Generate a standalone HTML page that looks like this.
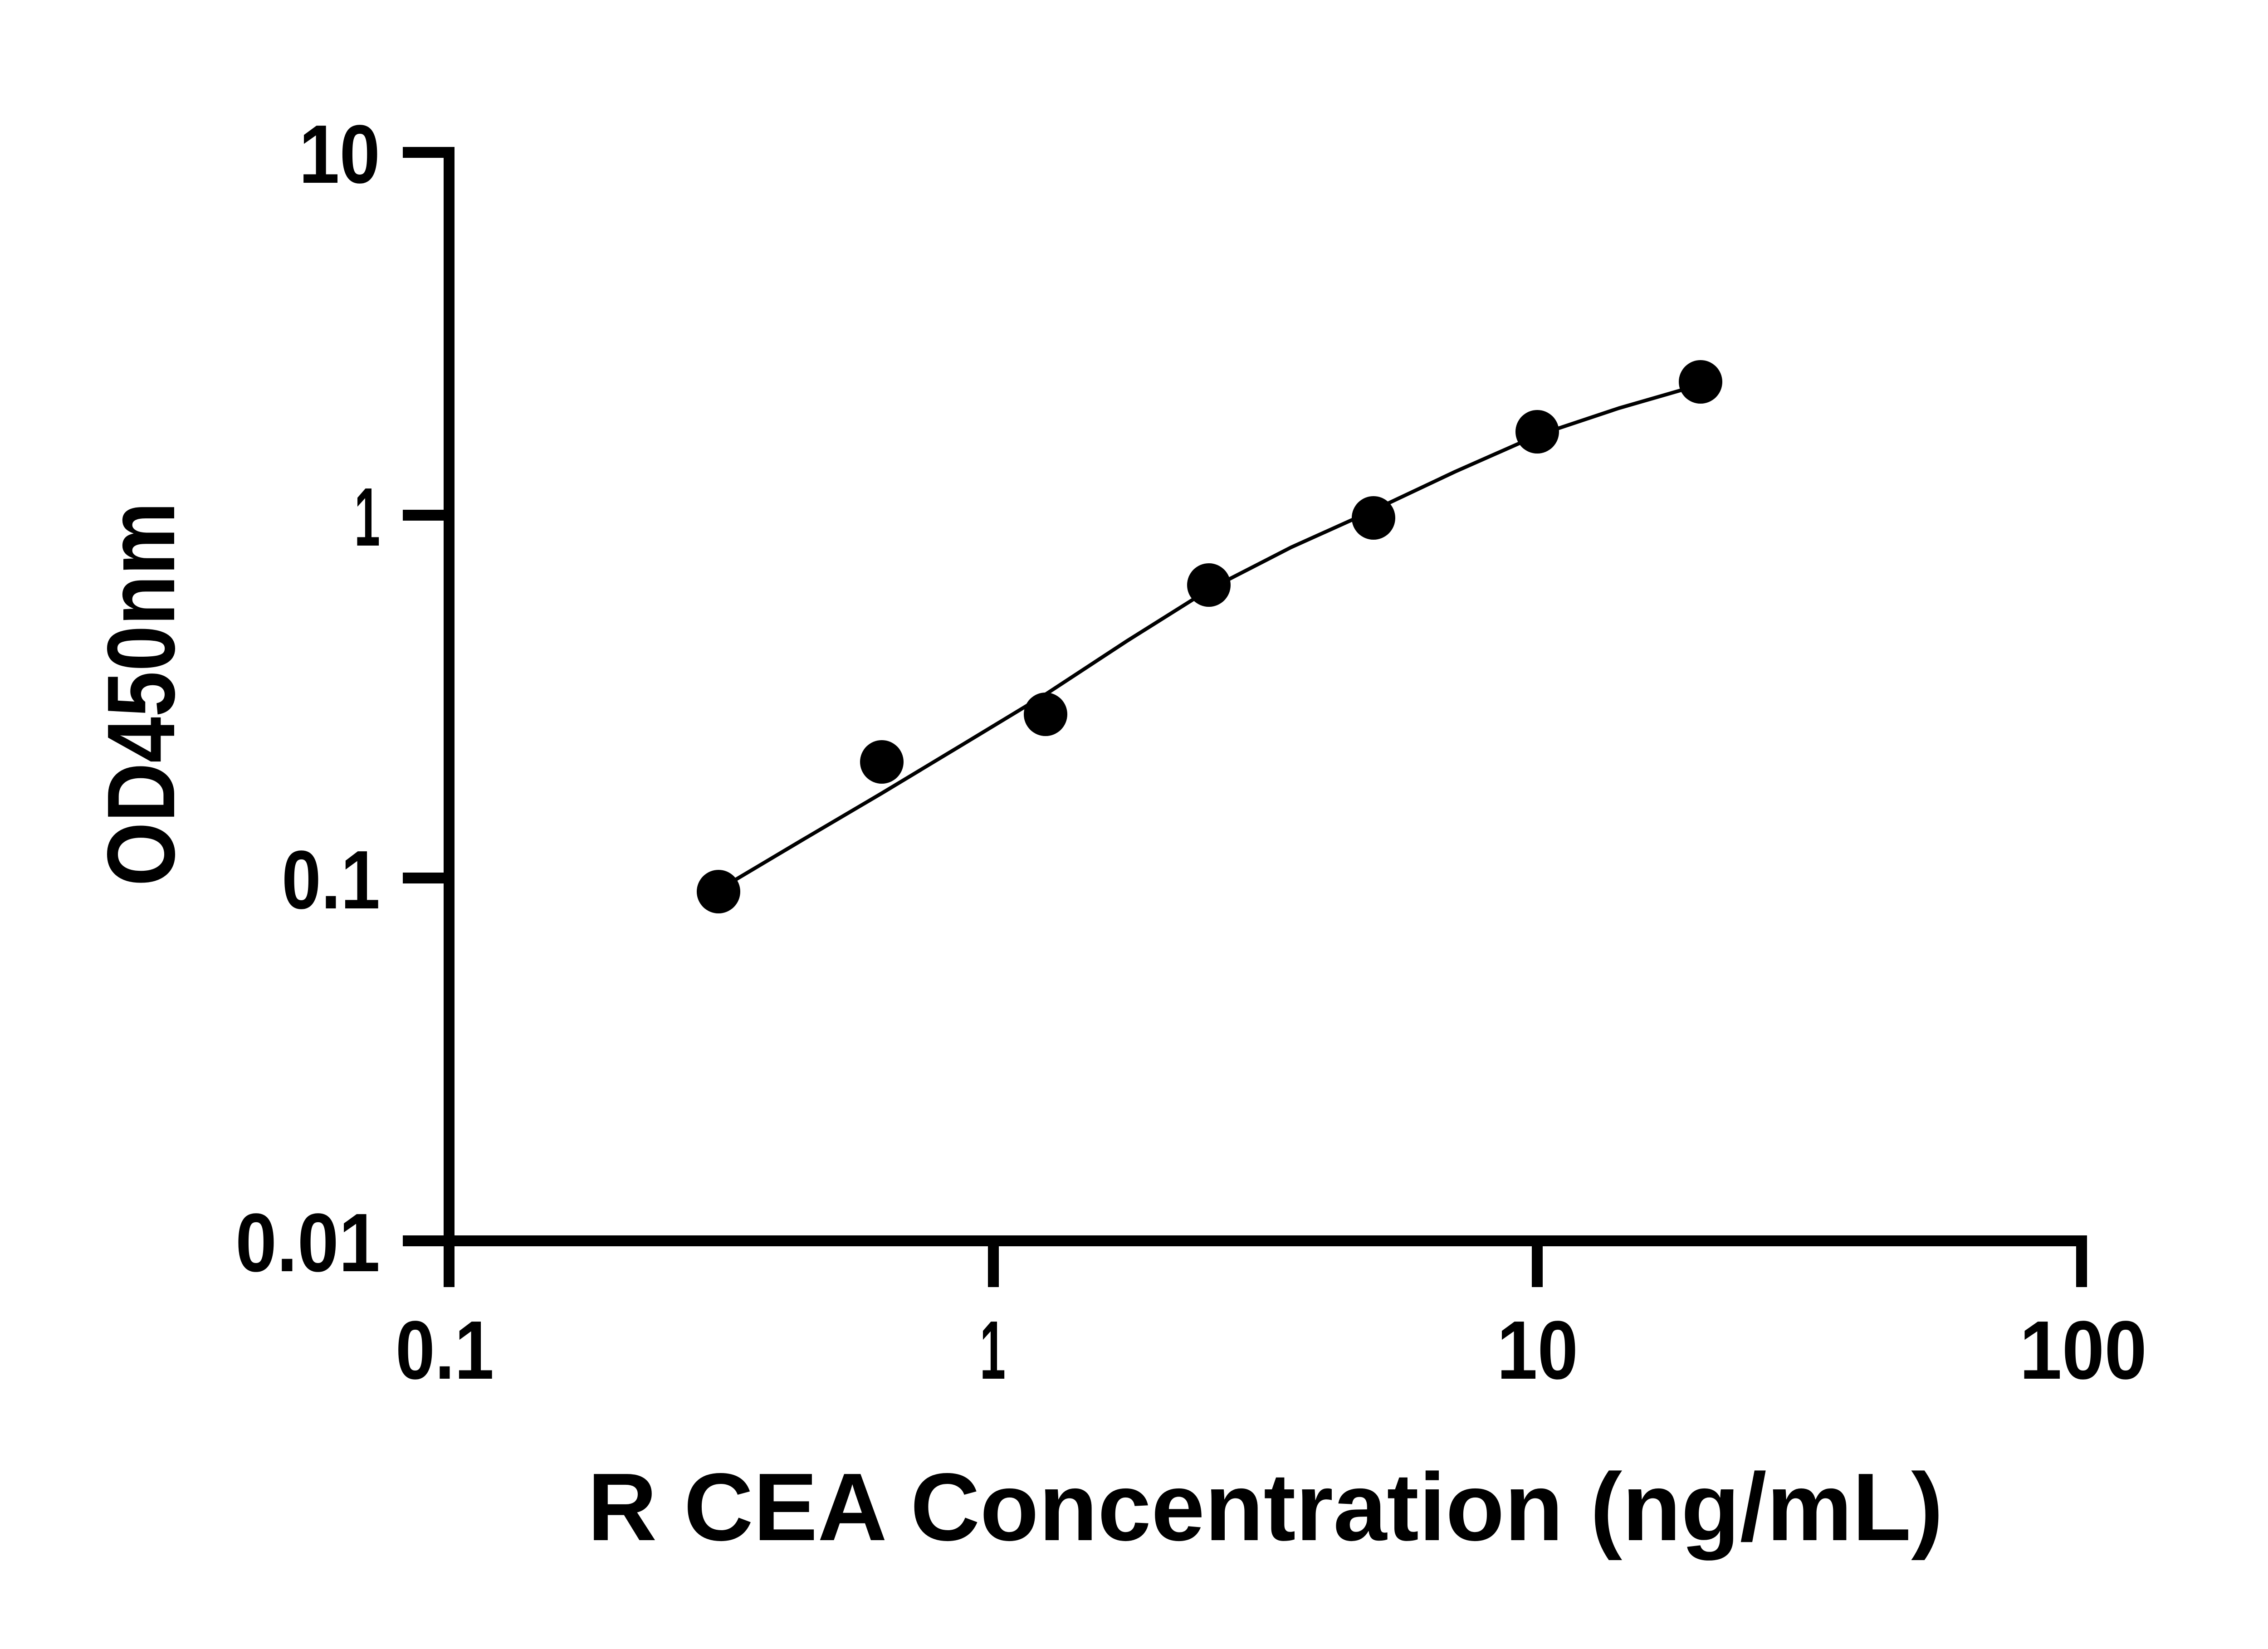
<!DOCTYPE html>
<html><head><style>html,body{margin:0;padding:0;background:#fff;}svg{display:block;}</style></head>
<body>
<svg width="5142" height="3636" viewBox="0 0 5142 3636" xmlns="http://www.w3.org/2000/svg">
<rect width="5142" height="3636" fill="#fff"/>
<g stroke="#000" stroke-width="24" fill="none" stroke-linecap="square">
<line x1="990" y1="336" x2="990" y2="2826"/>
<line x1="990" y1="2736" x2="4589" y2="2736"/>
<line x1="900" y1="336" x2="990" y2="336"/>
<line x1="900" y1="1136" x2="990" y2="1136"/>
<line x1="900" y1="1936" x2="990" y2="1936"/>
<line x1="900" y1="2736" x2="990" y2="2736"/>
<line x1="2190" y1="2736" x2="2190" y2="2826"/>
<line x1="3389" y1="2736" x2="3389" y2="2826"/>
<line x1="4589" y1="2736" x2="4589" y2="2826"/>
</g>
<path d="M1584,1962 L1764,1855 L1944,1749 L2125,1640 L2305,1531 L2485,1413 L2665,1300 L2846,1207 L3028,1125 L3208,1040 L3389,960 L3569,900 L3749,848" stroke="#000" stroke-width="8" fill="none" stroke-linejoin="round"/>
<g fill="#000">
<circle cx="1584" cy="1966" r="48"/>
<circle cx="1944" cy="1680" r="48"/>
<circle cx="2305" cy="1575" r="48"/>
<circle cx="2665" cy="1290" r="48"/>
<circle cx="3028" cy="1142" r="48"/>
<circle cx="3389" cy="952" r="48"/>
<circle cx="3749" cy="842" r="48"/>
</g>
<g font-family="Liberation Sans, sans-serif" font-weight="bold" font-size="183" fill="#000">
<text x="659" y="403" textLength="179" lengthAdjust="spacingAndGlyphs">10</text>
<text x="781" y="1203" textLength="57" lengthAdjust="spacingAndGlyphs">1</text>
<text x="621" y="2003" textLength="217" lengthAdjust="spacingAndGlyphs">0.1</text>
<text x="519" y="2803" textLength="319" lengthAdjust="spacingAndGlyphs">0.01</text>
<text x="872" y="3040" textLength="217" lengthAdjust="spacingAndGlyphs">0.1</text>
<text x="2160" y="3040" textLength="57" lengthAdjust="spacingAndGlyphs">1</text>
<text x="3300" y="3040" textLength="179" lengthAdjust="spacingAndGlyphs">10</text>
<text x="4452" y="3040" textLength="281" lengthAdjust="spacingAndGlyphs">100</text>
<text x="1295" y="3396" font-size="212" textLength="2989" lengthAdjust="spacingAndGlyphs">R CEA Concentration (ng/mL)</text>
<text transform="translate(384,1954) rotate(-90)" font-size="212" textLength="847" lengthAdjust="spacingAndGlyphs">OD450nm</text>
</g>
</svg>
</body></html>
